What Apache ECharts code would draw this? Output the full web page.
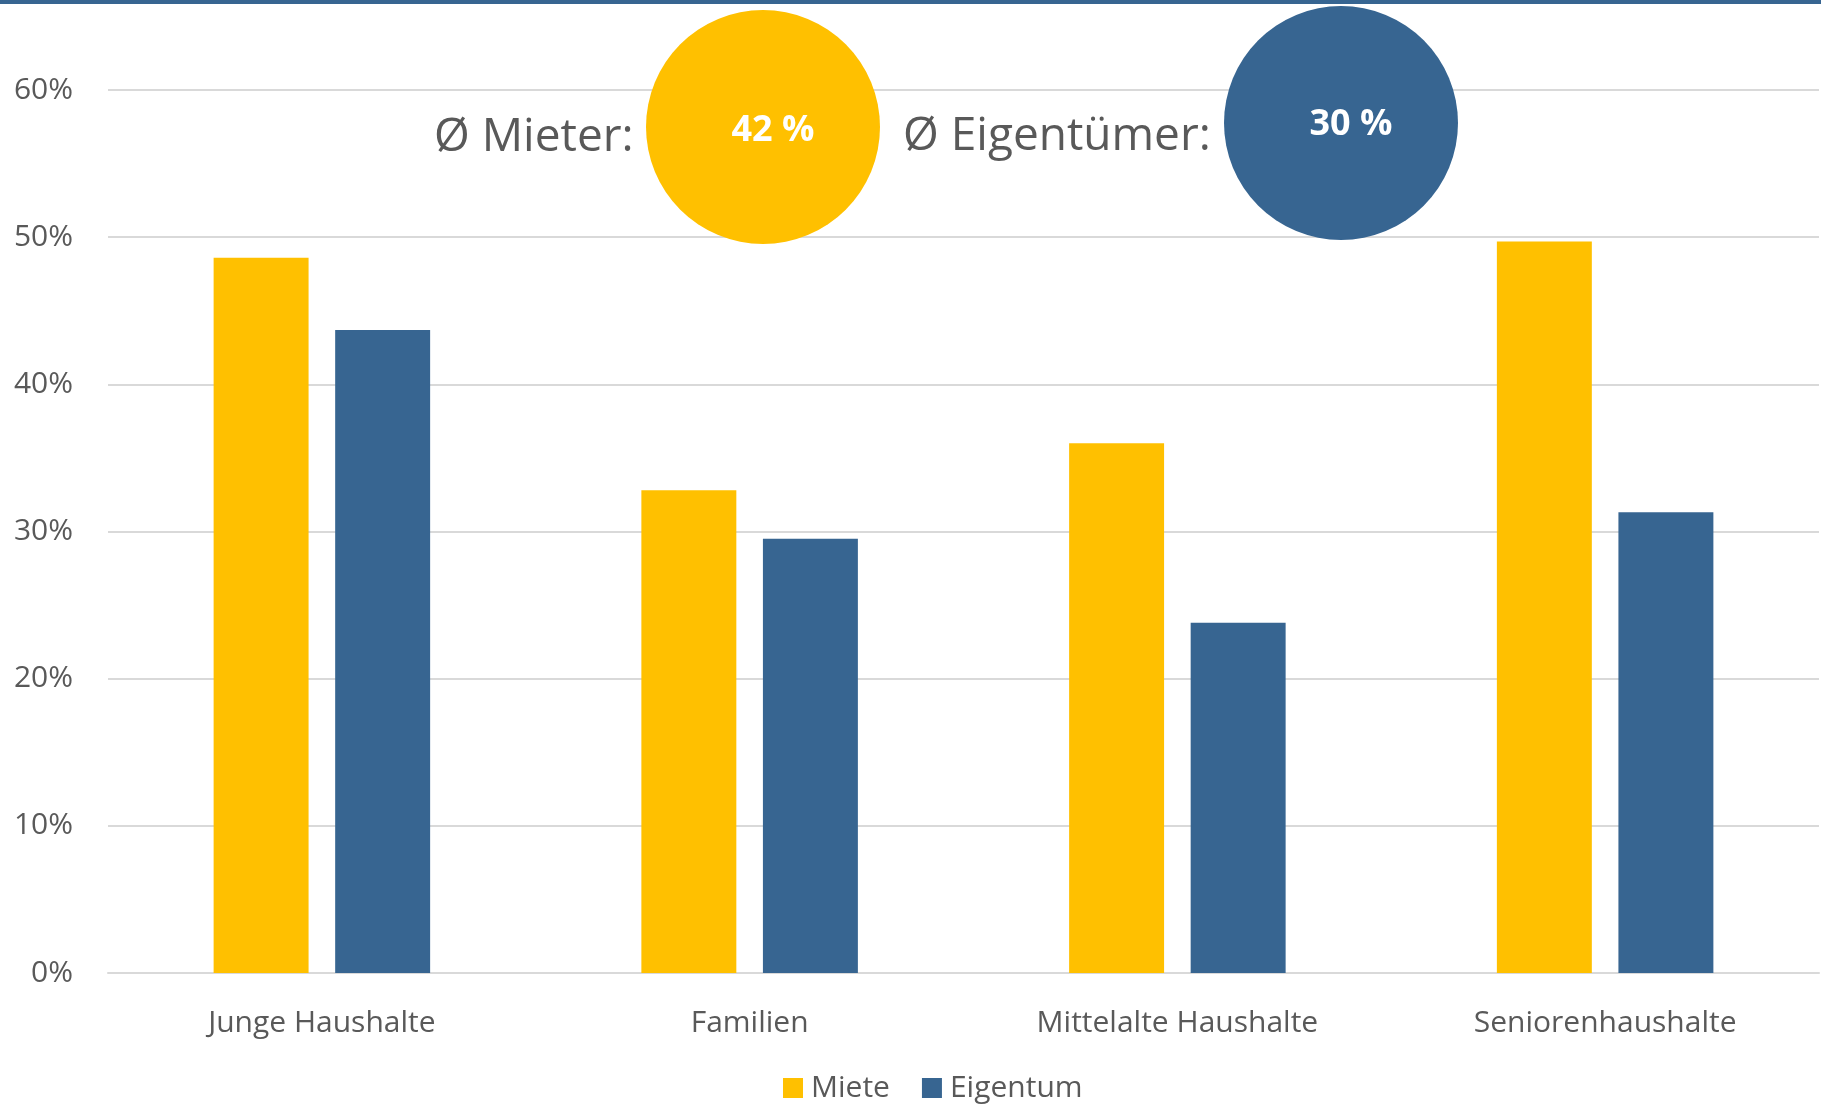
<!DOCTYPE html>
<html>
<head>
<meta charset="utf-8">
<script src="https://cdn.jsdelivr.net/npm/echarts@6/dist/echarts.min.js"></script>
<style>
html, body { margin: 0; padding: 0; background: #fff; }
#chart { width: 1821px; height: 1105px; }
</style>
</head>
<body>
<div id="chart"></div>
<script>
// Werte
var categories = ['Junge Haushalte', 'Familien', 'Mittelalte Haushalte', 'Seniorenhaushalte'];
var seriesNames = ['Miete', 'Eigentum'];
var miete = [48.6, 32.8, 36.0, 49.7];
var eigentum = [43.7, 29.5, 23.8, 31.3];
var avgLabels = ['Ø Mieter:', 'Ø Eigentümer:'];
var avgValues = [42, 30];

var yellow = '#FFC000';
var blue = '#376591';
var grey = '#595959';
var font = '"Open Sans", "Noto Sans", sans-serif';

var chart = echarts.init(document.getElementById('chart'));
chart.setOption({
    animation: false,
    textStyle: { fontFamily: font },
    grid: {
        left: 108,
        right: 2,
        top: 90,
        bottom: 132
    },
    legend: {
        data: seriesNames,
        left: 778,
        top: 1068,
        itemWidth: 20,
        itemHeight: 20,
        itemGap: 32,
        icon: 'rect',
        textStyle: { color: grey, fontSize: 30, fontFamily: font, padding: [0, 0, 0, 3] }
    },
    xAxis: {
        type: 'category',
        data: categories,
        axisLine: { lineStyle: { color: '#d9d9d9', width: 2 } },
        axisTick: { show: false },
        axisLabel: { color: grey, fontSize: 30, margin: 35, fontFamily: font }
    },
    yAxis: {
        type: 'value',
        min: 0,
        max: 60,
        interval: 10,
        axisLine: { show: false },
        axisTick: { show: false },
        axisLabel: { color: grey, fontSize: 30, margin: 35, formatter: '{value}%', fontFamily: font },
        splitLine: { lineStyle: { color: '#d9d9d9', width: 2 } }
    },
    series: [{
        name: seriesNames[0],
        type: 'bar',
        data: miete,
        barWidth: '22.2%',
        barGap: '28%',
        itemStyle: { color: yellow }
    }, {
        name: seriesNames[1],
        type: 'bar',
        data: eigentum,
        barWidth: '22.2%',
        itemStyle: { color: blue }
    }],
    graphic: [
        { type: 'rect', left: 0, top: 0, shape: { width: 1821, height: 4 }, style: { fill: blue } },
        { type: 'circle', shape: { cx: 763, cy: 127, r: 117 }, style: { fill: yellow }, z: 10 },
        { type: 'circle', shape: { cx: 1341, cy: 123, r: 117 }, style: { fill: blue }, z: 10 },
        {
            type: 'text', x: 434, y: 138, z: 11,
            style: { text: avgLabels[0], fill: grey, font: '46px ' + font, textVerticalAlign: 'middle' }
        },
        {
            type: 'text', x: 903, y: 137, z: 11,
            style: { text: avgLabels[1], fill: grey, font: '46px ' + font, textVerticalAlign: 'middle' }
        },
        {
            type: 'text', x: 773, y: 131, z: 11,
            style: { text: avgValues[0] + ' %', fill: '#fff', font: 'bold 36px ' + font, textAlign: 'center', textVerticalAlign: 'middle' }
        },
        {
            type: 'text', x: 1351, y: 125, z: 11,
            style: { text: avgValues[1] + ' %', fill: '#fff', font: 'bold 36px ' + font, textAlign: 'center', textVerticalAlign: 'middle' }
        }
    ]
});
</script>
</body>
</html>
